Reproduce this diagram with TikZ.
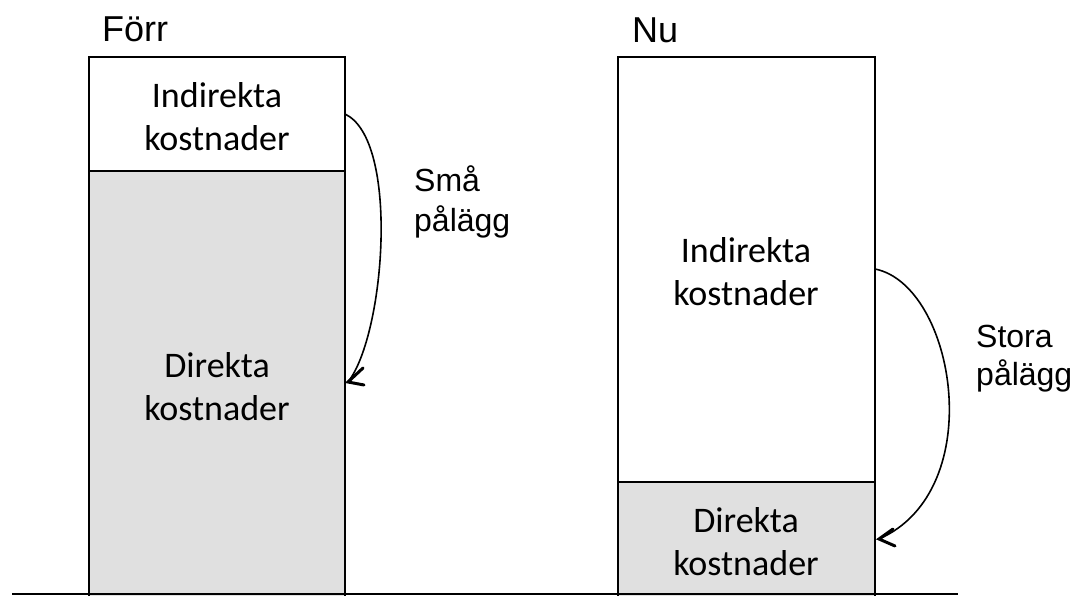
\documentclass[tikz,border=0pt]{standalone}
\usepackage{fontspec}
\usetikzlibrary{calc}
\setmainfont{Liberation Sans}
\newfontfamily\calib{Carlito}
\definecolor{barfill}{RGB}{224,224,224}
\tikzset{
  bar/.style={draw=black, line width=1.6pt},
  boxtext/.style={font=\calib\fontsize{36}{43}\selectfont, align=center, inner sep=0pt},
  headtext/.style={font=\fontsize{36}{40}\selectfont, inner sep=0pt, anchor=base west},
  labeltext/.style={font=\fontsize{32}{40}\selectfont, inner sep=0pt, anchor=base west},
  curve/.style={line width=1.6pt},
  barb/.style={line width=3pt, line cap=round, line join=miter},
}
\begin{document}
\begin{tikzpicture}[x=1pt,y=-1pt]
\useasboundingbox (0,0) rectangle (1077,596);
% left bar
\path[fill=barfill] (89,171) rectangle (345,598);
\draw[bar] (89,598) -- (89,57) -- (345,57) -- (345,598);
\draw[bar] (89,171) -- (345,171);
% right bar
\path[fill=barfill] (618,482) rectangle (875,598);
\draw[bar] (618,598) -- (618,57) -- (875,57) -- (875,598);
\draw[bar] (618,482) -- (875,482);
% ground line
\draw[line width=1.6pt] (12,594) -- (958,594);
% headings
\node[headtext] (forr) at (102,42) {Förr};
\node[headtext] (nu) at (632,43) {Nu};
% box texts
\node[boxtext] (li) at (217,117) {Indirekta\\kostnader};
\node[boxtext] (ld) at (217,387) {Direkta\\kostnader};
\node[boxtext] (ri) at (746,272) {Indirekta\\kostnader};
\node[boxtext] (rd) at (746,542) {Direkta\\kostnader};
% labels
\node[labeltext] (sma1) at (414,192) {Små};
\node[labeltext] (sma2) at (414,232) {pålägg};
\node[labeltext] (st1) at (976,347) {Stora};
\node[labeltext] (st2) at (976,385) {pålägg};
% curved arrows
\coordinate (ls) at (345,114);
\coordinate (lt) at (348,382);
\coordinate (rs) at (875,269);
\coordinate (rt) at (879,539);
\draw[curve] (ls) .. controls (400,140) and (385,335) .. (lt);
\draw[barb] ($(lt)+(15,-14)$) -- (lt) -- ++(16,3);
\draw[curve] (rs) .. controls (955,285) and (990,490) .. (rt);
\draw[barb] ($(rt)+(14,-10)$) -- (rt) -- ++(16,7);
\end{tikzpicture}
\end{document}
